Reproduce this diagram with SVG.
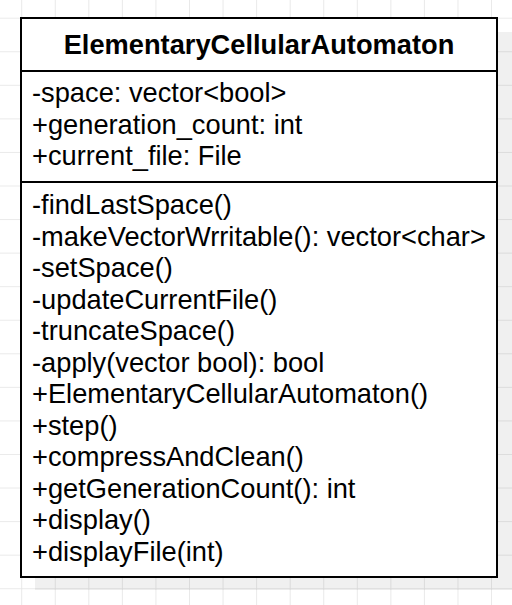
<svg xmlns="http://www.w3.org/2000/svg" width="512" height="605" viewBox="0 0 512 605">
  <defs>
    <pattern id="grid" x="21.2" y="17.7" width="33.56" height="33.56" patternUnits="userSpaceOnUse">
      <path d="M0 0H33.56M0 0V33.56" fill="none" stroke="#e4e4e4" stroke-width="1.6"/>
    </pattern>
  </defs>
  <style>
    .box { fill: #ffffff; stroke: #000000; stroke-width: 2; }
    .sep { stroke: #000000; stroke-width: 2; }
    .t { font-family: "Liberation Sans", Arial, sans-serif; font-size: 27.25px; fill: #000000; }
    .title { font-weight: bold; text-anchor: middle; }
  </style>
  <rect x="0" y="0" width="512" height="605" fill="#ffffff"/>
  <rect x="0" y="0" width="512" height="605" fill="url(#grid)"/>
  <g id="ElementaryCellularAutomaton">
    <rect x="35" y="32" width="477" height="558" fill="#000000" fill-opacity="0.06"/>
    <rect class="box" x="21" y="18" width="476" height="559"/>
    <line class="sep" x1="21" y1="71" x2="497" y2="71"/>
    <line class="sep" x1="21" y1="182" x2="497" y2="182"/>
    <text class="t title" x="259" y="54">ElementaryCellularAutomaton</text>
    <text class="t" x="32" y="102">-space: vector&lt;bool&gt;</text>
    <text class="t" x="32" y="133.5">+generation_count: int</text>
    <text class="t" x="32" y="165">+current_file: File</text>
    <text class="t" x="32" y="214">-findLastSpace()</text>
    <text class="t" x="32" y="245.5">-makeVectorWrritable(): vector&lt;char&gt;</text>
    <text class="t" x="32" y="277">-setSpace()</text>
    <text class="t" x="32" y="308.5">-updateCurrentFile()</text>
    <text class="t" x="32" y="340">-truncateSpace()</text>
    <text class="t" x="32" y="371.5">-apply(vector bool): bool</text>
    <text class="t" x="32" y="403">+ElementaryCellularAutomaton()</text>
    <text class="t" x="32" y="434.5">+step()</text>
    <text class="t" x="32" y="466">+compressAndClean()</text>
    <text class="t" x="32" y="497.5">+getGenerationCount(): int</text>
    <text class="t" x="32" y="529">+display()</text>
    <text class="t" x="32" y="560.5">+displayFile(int)</text>
  </g>
  <g id="connectors"/>
</svg>
